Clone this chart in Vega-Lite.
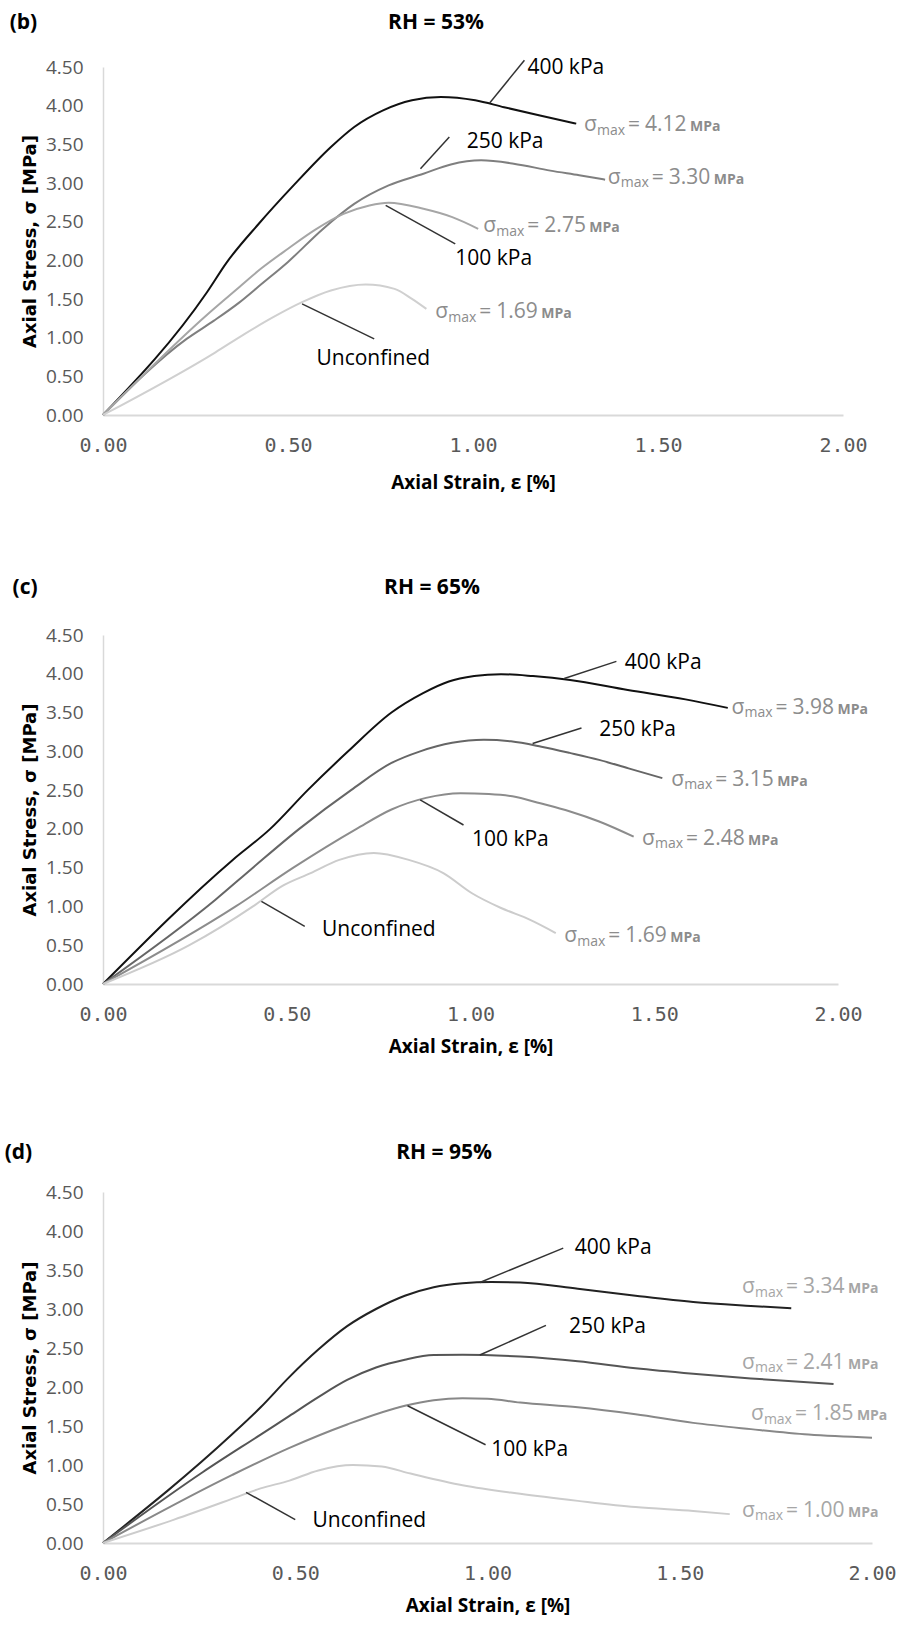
{
  "$schema": "https://vega.github.io/schema/vega-lite/v6.json",
  "background": "white",
  "padding": {"left": 4, "top": 11, "right": 0, "bottom": 0},
  "spacing": 85,
  "resolve": {"scale": {"color": "independent"}},
  "config": {
    "font": "Open Sans",
    "view": {"stroke": null},
    "axisX": {"labelFont": "DejaVu Sans Mono", "labelFontSize": 20, "labelColor": "#595959", "labelPadding": 20, "labelFlush": false, "labelOverlap": false, "ticks": false, "tickSize": 0, "grid": false, "domainColor": "#d9d9d9", "domainWidth": 2, "titleFont": "Open Sans", "titleFontSize": 19, "titleFontWeight": "bold", "titleColor": "#000000", "titlePadding": 18},
    "axisY": {"labelFont": "Open Sans", "labelFontSize": 19, "labelColor": "#595959", "labelPadding": 20, "labelOverlap": false, "ticks": false, "tickSize": 0, "grid": false, "domainColor": "#d9d9d9", "domainWidth": 1.5, "titleFont": "DejaVu Sans", "titleFontSize": 18, "titleFontWeight": "bold", "titleColor": "#000000", "titlePadding": 6}
  },
  "datasets": {
    "curves_b": [
      {"series": "400 kPa", "strain": 0, "stress": 0},
      {"series": "400 kPa", "strain": 0.281, "stress": 1.588},
      {"series": "400 kPa", "strain": 0.335, "stress": 1.977},
      {"series": "400 kPa", "strain": 0.421, "stress": 2.473},
      {"series": "400 kPa", "strain": 0.515, "stress": 2.969},
      {"series": "400 kPa", "strain": 0.616, "stress": 3.466},
      {"series": "400 kPa", "strain": 0.679, "stress": 3.725},
      {"series": "400 kPa", "strain": 0.757, "stress": 3.94},
      {"series": "400 kPa", "strain": 0.835, "stress": 4.07},
      {"series": "400 kPa", "strain": 0.913, "stress": 4.113},
      {"series": "400 kPa", "strain": 1.006, "stress": 4.07},
      {"series": "400 kPa", "strain": 1.084, "stress": 3.98},
      {"series": "400 kPa", "strain": 1.178, "stress": 3.876},
      {"series": "400 kPa", "strain": 1.279, "stress": 3.768},
      {"series": "250 kPa", "strain": 0, "stress": 0},
      {"series": "250 kPa", "strain": 0.226, "stress": 0.984},
      {"series": "250 kPa", "strain": 0.3, "stress": 1.22},
      {"series": "250 kPa", "strain": 0.367, "stress": 1.45},
      {"series": "250 kPa", "strain": 0.43, "stress": 1.7},
      {"series": "250 kPa", "strain": 0.5, "stress": 1.98},
      {"series": "250 kPa", "strain": 0.593, "stress": 2.4},
      {"series": "250 kPa", "strain": 0.679, "stress": 2.73},
      {"series": "250 kPa", "strain": 0.772, "stress": 2.969},
      {"series": "250 kPa", "strain": 0.866, "stress": 3.12},
      {"series": "250 kPa", "strain": 0.94, "stress": 3.24},
      {"series": "250 kPa", "strain": 1.022, "stress": 3.293},
      {"series": "250 kPa", "strain": 1.11, "stress": 3.25},
      {"series": "250 kPa", "strain": 1.209, "stress": 3.16},
      {"series": "250 kPa", "strain": 1.287, "stress": 3.1},
      {"series": "250 kPa", "strain": 1.357, "stress": 3.043},
      {"series": "100 kPa", "strain": 0, "stress": 0},
      {"series": "100 kPa", "strain": 0.289, "stress": 1.329},
      {"series": "100 kPa", "strain": 0.36, "stress": 1.62},
      {"series": "100 kPa", "strain": 0.429, "stress": 1.9},
      {"series": "100 kPa", "strain": 0.5, "stress": 2.15},
      {"series": "100 kPa", "strain": 0.575, "stress": 2.4},
      {"series": "100 kPa", "strain": 0.65, "stress": 2.6},
      {"series": "100 kPa", "strain": 0.72, "stress": 2.71},
      {"series": "100 kPa", "strain": 0.772, "stress": 2.745},
      {"series": "100 kPa", "strain": 0.866, "stress": 2.667},
      {"series": "100 kPa", "strain": 0.944, "stress": 2.559},
      {"series": "100 kPa", "strain": 1.014, "stress": 2.408},
      {"series": "Unconfined", "strain": 0, "stress": 0},
      {"series": "Unconfined", "strain": 0.304, "stress": 0.811},
      {"series": "Unconfined", "strain": 0.38, "stress": 1.04},
      {"series": "Unconfined", "strain": 0.46, "stress": 1.265},
      {"series": "Unconfined", "strain": 0.538, "stress": 1.459},
      {"series": "Unconfined", "strain": 0.616, "stress": 1.61},
      {"series": "Unconfined", "strain": 0.71, "stress": 1.688},
      {"series": "Unconfined", "strain": 0.788, "stress": 1.631},
      {"series": "Unconfined", "strain": 0.835, "stress": 1.502},
      {"series": "Unconfined", "strain": 0.874, "stress": 1.372}
    ],
    "leaders_b": [
      {"strain": 1.045, "stress": 4.035, "strain2": 1.139, "stress2": 4.588},
      {"strain": 0.858, "stress": 3.185, "strain2": 0.936, "stress2": 3.595},
      {"strain": 0.764, "stress": 2.71, "strain2": 0.952, "stress2": 2.214},
      {"strain": 0.538, "stress": 1.437, "strain2": 0.733, "stress2": 0.984}
    ],
    "labels_b": [
      {"label": "400 kPa", "strain": 1.147, "stress": 4.49},
      {"label": "250 kPa", "strain": 0.983, "stress": 3.53},
      {"label": "100 kPa", "strain": 0.952, "stress": 2.02},
      {"label": "Unconfined", "strain": 0.577, "stress": 0.725}
    ],
    "heads_b": [
      {"label": "(b)", "strain": -0.215, "stress": 5.07},
      {"label": "RH = 53%", "strain": 0.9, "stress": 5.07}
    ],
    "smax_b": [
      {"smax": 4.12, "strain": 1.3, "stress": 3.767},
      {"smax": 3.3, "strain": 1.364, "stress": 3.09},
      {"smax": 2.75, "strain": 1.028, "stress": 2.46},
      {"smax": 1.69, "strain": 0.898, "stress": 1.345}
    ],
    "curves_c": [
      {"series": "400 kPa", "strain": 0, "stress": 0},
      {"series": "400 kPa", "strain": 0.353, "stress": 1.6},
      {"series": "400 kPa", "strain": 0.455, "stress": 2.0},
      {"series": "400 kPa", "strain": 0.557, "stress": 2.5},
      {"series": "400 kPa", "strain": 0.667, "stress": 3.0},
      {"series": "400 kPa", "strain": 0.785, "stress": 3.5},
      {"series": "400 kPa", "strain": 0.871, "stress": 3.75},
      {"series": "400 kPa", "strain": 0.941, "stress": 3.9},
      {"series": "400 kPa", "strain": 1.01, "stress": 3.97},
      {"series": "400 kPa", "strain": 1.083, "stress": 3.995},
      {"series": "400 kPa", "strain": 1.17, "stress": 3.97},
      {"series": "400 kPa", "strain": 1.271, "stress": 3.92},
      {"series": "400 kPa", "strain": 1.428, "stress": 3.79},
      {"series": "400 kPa", "strain": 1.585, "stress": 3.67},
      {"series": "400 kPa", "strain": 1.7, "stress": 3.56},
      {"series": "250 kPa", "strain": 0, "stress": 0},
      {"series": "250 kPa", "strain": 0.306, "stress": 1.087},
      {"series": "250 kPa", "strain": 0.408, "stress": 1.5},
      {"series": "250 kPa", "strain": 0.534, "stress": 2.0},
      {"series": "250 kPa", "strain": 0.675, "stress": 2.5},
      {"series": "250 kPa", "strain": 0.785, "stress": 2.85},
      {"series": "250 kPa", "strain": 0.863, "stress": 3.0},
      {"series": "250 kPa", "strain": 0.95, "stress": 3.11},
      {"series": "250 kPa", "strain": 1.036, "stress": 3.15},
      {"series": "250 kPa", "strain": 1.11, "stress": 3.13},
      {"series": "250 kPa", "strain": 1.193, "stress": 3.06},
      {"series": "250 kPa", "strain": 1.27, "stress": 2.98},
      {"series": "250 kPa", "strain": 1.35, "stress": 2.89},
      {"series": "250 kPa", "strain": 1.43, "stress": 2.78},
      {"series": "250 kPa", "strain": 1.522, "stress": 2.655},
      {"series": "100 kPa", "strain": 0, "stress": 0},
      {"series": "100 kPa", "strain": 0.361, "stress": 1.0},
      {"series": "100 kPa", "strain": 0.518, "stress": 1.5},
      {"series": "100 kPa", "strain": 0.69, "stress": 2.0},
      {"series": "100 kPa", "strain": 0.785, "stress": 2.25},
      {"series": "100 kPa", "strain": 0.879, "stress": 2.4},
      {"series": "100 kPa", "strain": 0.973, "stress": 2.46},
      {"series": "100 kPa", "strain": 1.05, "stress": 2.45},
      {"series": "100 kPa", "strain": 1.114, "stress": 2.42},
      {"series": "100 kPa", "strain": 1.19, "stress": 2.33},
      {"series": "100 kPa", "strain": 1.271, "stress": 2.225},
      {"series": "100 kPa", "strain": 1.35, "stress": 2.096},
      {"series": "100 kPa", "strain": 1.444, "stress": 1.9},
      {"series": "Unconfined", "strain": 0, "stress": 0},
      {"series": "Unconfined", "strain": 0.235, "stress": 0.5},
      {"series": "Unconfined", "strain": 0.408, "stress": 1.0},
      {"series": "Unconfined", "strain": 0.486, "stress": 1.26},
      {"series": "Unconfined", "strain": 0.565, "stress": 1.43},
      {"series": "Unconfined", "strain": 0.643, "stress": 1.6},
      {"series": "Unconfined", "strain": 0.737, "stress": 1.69},
      {"series": "Unconfined", "strain": 0.832, "stress": 1.6},
      {"series": "Unconfined", "strain": 0.926, "stress": 1.43},
      {"series": "Unconfined", "strain": 1.004, "stress": 1.17},
      {"series": "Unconfined", "strain": 1.083, "stress": 0.98},
      {"series": "Unconfined", "strain": 1.161, "stress": 0.83},
      {"series": "Unconfined", "strain": 1.232, "stress": 0.657}
    ],
    "leaders_c": [
      {"strain": 1.255, "stress": 3.94, "strain2": 1.397, "stress2": 4.16},
      {"strain": 1.169, "stress": 3.1, "strain2": 1.302, "stress2": 3.3},
      {"strain": 0.863, "stress": 2.375, "strain2": 0.981, "stress2": 2.05},
      {"strain": 0.431, "stress": 1.065, "strain2": 0.549, "stress2": 0.743}
    ],
    "labels_c": [
      {"label": "400 kPa", "strain": 1.42, "stress": 4.14},
      {"label": "250 kPa", "strain": 1.35, "stress": 3.28},
      {"label": "100 kPa", "strain": 1.004, "stress": 1.86},
      {"label": "Unconfined", "strain": 0.596, "stress": 0.7}
    ],
    "heads_c": [
      {"label": "(c)", "strain": -0.212, "stress": 5.1},
      {"label": "RH = 65%", "strain": 0.895, "stress": 5.1}
    ],
    "smax_c": [
      {"smax": 3.98, "strain": 1.71, "stress": 3.58},
      {"smax": 3.15, "strain": 1.546, "stress": 2.655},
      {"smax": 2.48, "strain": 1.467, "stress": 1.89},
      {"smax": 1.69, "strain": 1.255, "stress": 0.636}
    ],
    "curves_d": [
      {"series": "400 kPa", "strain": 0, "stress": 0},
      {"series": "400 kPa", "strain": 0.335, "stress": 1.39},
      {"series": "400 kPa", "strain": 0.41, "stress": 1.74},
      {"series": "400 kPa", "strain": 0.485, "stress": 2.13},
      {"series": "400 kPa", "strain": 0.56, "stress": 2.48},
      {"series": "400 kPa", "strain": 0.635, "stress": 2.78},
      {"series": "400 kPa", "strain": 0.71, "stress": 3.0},
      {"series": "400 kPa", "strain": 0.785, "stress": 3.17},
      {"series": "400 kPa", "strain": 0.86, "stress": 3.28},
      {"series": "400 kPa", "strain": 0.935, "stress": 3.33},
      {"series": "400 kPa", "strain": 1.01, "stress": 3.345},
      {"series": "400 kPa", "strain": 1.085, "stress": 3.34},
      {"series": "400 kPa", "strain": 1.235, "stress": 3.26},
      {"series": "400 kPa", "strain": 1.385, "stress": 3.17},
      {"series": "400 kPa", "strain": 1.535, "stress": 3.09},
      {"series": "400 kPa", "strain": 1.685, "stress": 3.04},
      {"series": "400 kPa", "strain": 1.79, "stress": 3.01},
      {"series": "250 kPa", "strain": 0, "stress": 0},
      {"series": "250 kPa", "strain": 0.26, "stress": 0.91},
      {"series": "250 kPa", "strain": 0.41, "stress": 1.39},
      {"series": "250 kPa", "strain": 0.485, "stress": 1.63},
      {"series": "250 kPa", "strain": 0.56, "stress": 1.87},
      {"series": "250 kPa", "strain": 0.635, "stress": 2.09},
      {"series": "250 kPa", "strain": 0.71, "stress": 2.25},
      {"series": "250 kPa", "strain": 0.785, "stress": 2.35},
      {"series": "250 kPa", "strain": 0.86, "stress": 2.41},
      {"series": "250 kPa", "strain": 0.935, "stress": 2.415},
      {"series": "250 kPa", "strain": 1.085, "stress": 2.39},
      {"series": "250 kPa", "strain": 1.235, "stress": 2.33},
      {"series": "250 kPa", "strain": 1.385, "stress": 2.24},
      {"series": "250 kPa", "strain": 1.535, "stress": 2.17},
      {"series": "250 kPa", "strain": 1.685, "stress": 2.11},
      {"series": "250 kPa", "strain": 1.9, "stress": 2.04},
      {"series": "100 kPa", "strain": 0, "stress": 0},
      {"series": "100 kPa", "strain": 0.335, "stress": 0.87},
      {"series": "100 kPa", "strain": 0.485, "stress": 1.22},
      {"series": "100 kPa", "strain": 0.635, "stress": 1.52},
      {"series": "100 kPa", "strain": 0.785, "stress": 1.76},
      {"series": "100 kPa", "strain": 0.86, "stress": 1.83},
      {"series": "100 kPa", "strain": 0.935, "stress": 1.855},
      {"series": "100 kPa", "strain": 1.0, "stress": 1.85},
      {"series": "100 kPa", "strain": 1.085, "stress": 1.8},
      {"series": "100 kPa", "strain": 1.235, "stress": 1.74},
      {"series": "100 kPa", "strain": 1.385, "stress": 1.65},
      {"series": "100 kPa", "strain": 1.535, "stress": 1.54},
      {"series": "100 kPa", "strain": 1.685, "stress": 1.46},
      {"series": "100 kPa", "strain": 1.835, "stress": 1.39},
      {"series": "100 kPa", "strain": 2.0, "stress": 1.35},
      {"series": "Unconfined", "strain": 0, "stress": 0},
      {"series": "Unconfined", "strain": 0.185, "stress": 0.3},
      {"series": "Unconfined", "strain": 0.335, "stress": 0.565},
      {"series": "Unconfined", "strain": 0.41, "stress": 0.7},
      {"series": "Unconfined", "strain": 0.485, "stress": 0.8},
      {"series": "Unconfined", "strain": 0.56, "stress": 0.93},
      {"series": "Unconfined", "strain": 0.65, "stress": 1.0},
      {"series": "Unconfined", "strain": 0.725, "stress": 0.98},
      {"series": "Unconfined", "strain": 0.8, "stress": 0.89},
      {"series": "Unconfined", "strain": 0.935, "stress": 0.74},
      {"series": "Unconfined", "strain": 1.085, "stress": 0.63},
      {"series": "Unconfined", "strain": 1.235, "stress": 0.54},
      {"series": "Unconfined", "strain": 1.385, "stress": 0.46},
      {"series": "Unconfined", "strain": 1.535, "stress": 0.41},
      {"series": "Unconfined", "strain": 1.63, "stress": 0.37}
    ],
    "leaders_d": [
      {"strain": 0.98, "stress": 3.34, "strain2": 1.197, "stress2": 3.78},
      {"strain": 0.98, "stress": 2.41, "strain2": 1.152, "stress2": 2.79},
      {"strain": 0.792, "stress": 1.76, "strain2": 0.995, "stress2": 1.26},
      {"strain": 0.372, "stress": 0.65, "strain2": 0.5, "stress2": 0.3}
    ],
    "labels_d": [
      {"label": "400 kPa", "strain": 1.227, "stress": 3.78},
      {"label": "250 kPa", "strain": 1.212, "stress": 2.77},
      {"label": "100 kPa", "strain": 1.01, "stress": 1.196},
      {"label": "Unconfined", "strain": 0.545, "stress": 0.28}
    ],
    "heads_d": [
      {"label": "(d)", "strain": -0.22, "stress": 5.0},
      {"label": "RH = 95%", "strain": 0.887, "stress": 5.0}
    ],
    "smax_d": [
      {"smax": 3.34, "strain": 1.662, "stress": 3.3},
      {"smax": 2.41, "strain": 1.662, "stress": 2.33},
      {"smax": 1.85, "strain": 1.685, "stress": 1.67},
      {"smax": 1.0, "strain": 1.662, "stress": 0.435}
    ]
  },
  "vconcat": [
    {
      "width": 740, "height": 348,
      "encoding": {
        "x": {"field": "strain", "type": "quantitative", "scale": {"domain": [0, 2]}, "axis": {"values": [0, 0.5, 1, 1.5, 2], "format": ".2f"}, "title": "Axial Strain, ε [%]"},
        "y": {"field": "stress", "type": "quantitative", "scale": {"domain": [0, 4.5]}, "axis": {"values": [0, 0.5, 1, 1.5, 2, 2.5, 3, 3.5, 4, 4.5], "format": ".2f"}, "title": "Axial Stress, σ [MPa]"}
      },
      "layer": [
        {"data": {"name": "curves_b"}, "mark": {"type": "line", "interpolate": "monotone", "strokeWidth": 2},
         "encoding": {"color": {"field": "series", "type": "nominal", "scale": {"domain": ["400 kPa", "250 kPa", "100 kPa", "Unconfined"], "range": ["#111111", "#7f7f7f", "#a6a6a6", "#d0d0d0"]}, "legend": null}}},
        {"data": {"name": "leaders_b"}, "mark": {"type": "rule", "color": "#333333", "strokeWidth": 1.5}, "encoding": {"x2": {"field": "strain2"}, "y2": {"field": "stress2"}}},
        {"data": {"name": "labels_b"}, "mark": {"type": "text", "align": "left", "baseline": "middle", "font": "Open Sans", "fontSize": 21, "color": "#000000"}, "encoding": {"text": {"field": "label"}}},
        {"data": {"name": "heads_b"}, "mark": {"type": "text", "align": "center", "baseline": "middle", "font": "Open Sans", "fontSize": 21, "fontWeight": "bold", "color": "#000000"}, "encoding": {"text": {"field": "label"}}},
        {"data": {"name": "smax_b"}, "mark": {"type": "text", "align": "left", "baseline": "alphabetic", "dy": 7.5, "font": "Open Sans", "fontSize": 21, "color": "#8c8c8c", "text": "σ"}},
        {"data": {"name": "smax_b"}, "mark": {"type": "text", "align": "left", "baseline": "alphabetic", "dx": 13, "dy": 11, "font": "Open Sans", "fontSize": 14, "color": "#8c8c8c", "text": "max"}},
        {"data": {"name": "smax_b"}, "mark": {"type": "text", "align": "left", "baseline": "alphabetic", "dx": 44, "dy": 7.5, "font": "Open Sans", "fontSize": 21, "color": "#8c8c8c", "text": "="}},
        {"data": {"name": "smax_b"}, "mark": {"type": "text", "align": "left", "baseline": "alphabetic", "dx": 61, "dy": 7.5, "font": "Open Sans", "fontSize": 21, "color": "#8c8c8c"}, "encoding": {"text": {"field": "smax", "type": "quantitative", "format": ".2f"}}},
        {"data": {"name": "smax_b"}, "mark": {"type": "text", "align": "left", "baseline": "alphabetic", "dx": 106, "dy": 7.5, "font": "Open Sans", "fontSize": 14, "fontWeight": "bold", "color": "#8c8c8c", "text": "MPa"}}
      ]
    },
    {
      "width": 735, "height": 349,
      "encoding": {
        "x": {"field": "strain", "type": "quantitative", "scale": {"domain": [0, 2]}, "axis": {"values": [0, 0.5, 1, 1.5, 2], "format": ".2f", "titlePadding": 13}, "title": "Axial Strain, ε [%]"},
        "y": {"field": "stress", "type": "quantitative", "scale": {"domain": [0, 4.5]}, "axis": {"values": [0, 0.5, 1, 1.5, 2, 2.5, 3, 3.5, 4, 4.5], "format": ".2f"}, "title": "Axial Stress, σ [MPa]"}
      },
      "layer": [
        {"data": {"name": "curves_c"}, "mark": {"type": "line", "interpolate": "monotone", "strokeWidth": 2},
         "encoding": {"color": {"field": "series", "type": "nominal", "scale": {"domain": ["400 kPa", "250 kPa", "100 kPa", "Unconfined"], "range": ["#111111", "#666666", "#8c8c8c", "#cccccc"]}, "legend": null}}},
        {"data": {"name": "leaders_c"}, "mark": {"type": "rule", "color": "#333333", "strokeWidth": 1.5}, "encoding": {"x2": {"field": "strain2"}, "y2": {"field": "stress2"}}},
        {"data": {"name": "labels_c"}, "mark": {"type": "text", "align": "left", "baseline": "middle", "font": "Open Sans", "fontSize": 21, "color": "#000000"}, "encoding": {"text": {"field": "label"}}},
        {"data": {"name": "heads_c"}, "mark": {"type": "text", "align": "center", "baseline": "middle", "font": "Open Sans", "fontSize": 21, "fontWeight": "bold", "color": "#000000"}, "encoding": {"text": {"field": "label"}}},
        {"data": {"name": "smax_c"}, "mark": {"type": "text", "align": "left", "baseline": "alphabetic", "dy": 7.5, "font": "Open Sans", "fontSize": 21, "color": "#8c8c8c", "text": "σ"}},
        {"data": {"name": "smax_c"}, "mark": {"type": "text", "align": "left", "baseline": "alphabetic", "dx": 13, "dy": 11, "font": "Open Sans", "fontSize": 14, "color": "#8c8c8c", "text": "max"}},
        {"data": {"name": "smax_c"}, "mark": {"type": "text", "align": "left", "baseline": "alphabetic", "dx": 44, "dy": 7.5, "font": "Open Sans", "fontSize": 21, "color": "#8c8c8c", "text": "="}},
        {"data": {"name": "smax_c"}, "mark": {"type": "text", "align": "left", "baseline": "alphabetic", "dx": 61, "dy": 7.5, "font": "Open Sans", "fontSize": 21, "color": "#8c8c8c"}, "encoding": {"text": {"field": "smax", "type": "quantitative", "format": ".2f"}}},
        {"data": {"name": "smax_c"}, "mark": {"type": "text", "align": "left", "baseline": "alphabetic", "dx": 106, "dy": 7.5, "font": "Open Sans", "fontSize": 14, "fontWeight": "bold", "color": "#8c8c8c", "text": "MPa"}}
      ]
    },
    {
      "width": 769, "height": 351,
      "encoding": {
        "x": {"field": "strain", "type": "quantitative", "scale": {"domain": [0, 2]}, "axis": {"values": [0, 0.5, 1, 1.5, 2], "format": ".2f", "titlePadding": 13}, "title": "Axial Strain, ε [%]"},
        "y": {"field": "stress", "type": "quantitative", "scale": {"domain": [0, 4.5]}, "axis": {"values": [0, 0.5, 1, 1.5, 2, 2.5, 3, 3.5, 4, 4.5], "format": ".2f"}, "title": "Axial Stress, σ [MPa]"}
      },
      "layer": [
        {"data": {"name": "curves_d"}, "mark": {"type": "line", "interpolate": "monotone", "strokeWidth": 2},
         "encoding": {"color": {"field": "series", "type": "nominal", "scale": {"domain": ["400 kPa", "250 kPa", "100 kPa", "Unconfined"], "range": ["#222222", "#555555", "#888888", "#cccccc"]}, "legend": null}}},
        {"data": {"name": "leaders_d"}, "mark": {"type": "rule", "color": "#333333", "strokeWidth": 1.5}, "encoding": {"x2": {"field": "strain2"}, "y2": {"field": "stress2"}}},
        {"data": {"name": "labels_d"}, "mark": {"type": "text", "align": "left", "baseline": "middle", "font": "Open Sans", "fontSize": 21, "color": "#000000"}, "encoding": {"text": {"field": "label"}}},
        {"data": {"name": "heads_d"}, "mark": {"type": "text", "align": "center", "baseline": "middle", "font": "Open Sans", "fontSize": 21, "fontWeight": "bold", "color": "#000000"}, "encoding": {"text": {"field": "label"}}},
        {"data": {"name": "smax_d"}, "mark": {"type": "text", "align": "left", "baseline": "alphabetic", "dy": 7.5, "font": "Open Sans", "fontSize": 21, "color": "#a6a6a6", "text": "σ"}},
        {"data": {"name": "smax_d"}, "mark": {"type": "text", "align": "left", "baseline": "alphabetic", "dx": 13, "dy": 11, "font": "Open Sans", "fontSize": 14, "color": "#a6a6a6", "text": "max"}},
        {"data": {"name": "smax_d"}, "mark": {"type": "text", "align": "left", "baseline": "alphabetic", "dx": 44, "dy": 7.5, "font": "Open Sans", "fontSize": 21, "color": "#a6a6a6", "text": "="}},
        {"data": {"name": "smax_d"}, "mark": {"type": "text", "align": "left", "baseline": "alphabetic", "dx": 61, "dy": 7.5, "font": "Open Sans", "fontSize": 21, "color": "#a6a6a6"}, "encoding": {"text": {"field": "smax", "type": "quantitative", "format": ".2f"}}},
        {"data": {"name": "smax_d"}, "mark": {"type": "text", "align": "left", "baseline": "alphabetic", "dx": 106, "dy": 7.5, "font": "Open Sans", "fontSize": 14, "fontWeight": "bold", "color": "#a6a6a6", "text": "MPa"}}
      ]
    }
  ]
}
